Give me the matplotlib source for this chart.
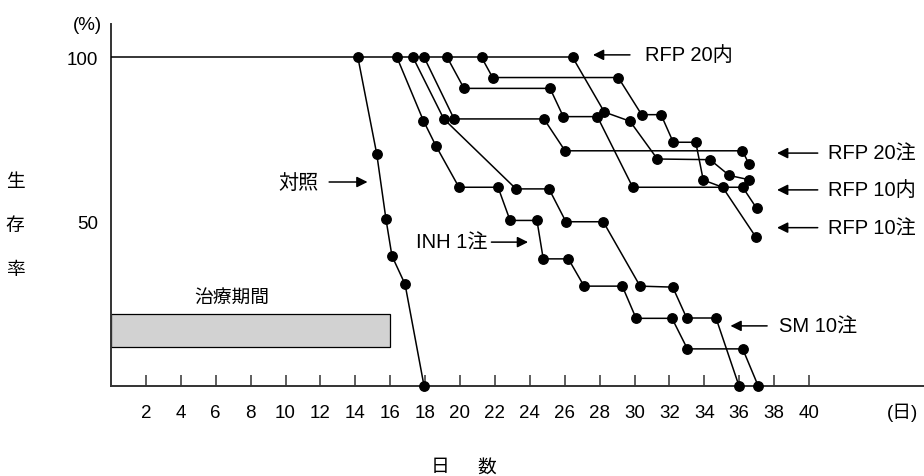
import matplotlib
matplotlib.use('Agg')
import matplotlib.pyplot as plt
from matplotlib.patches import Rectangle

plt.rcParams['font.family'] = ['Liberation Sans', 'Noto Sans CJK JP', 'DejaVu Sans']

# survival curves: day, survival rate (%)
ctrl_day = [14.15, 15.23, 15.76, 16.10, 16.85, 17.94]
ctrl_pct = [100, 70.6, 50.7, 39.6, 31.0, 0]

inh_day = [16.39, 17.90, 18.61, 19.94, 22.18, 22.87, 24.41, 24.77, 26.21, 27.11,
           29.30, 30.09, 32.15, 33.03, 36.20, 37.09]
inh_pct = [100, 80.8, 73.2, 60.5, 60.5, 50.4, 50.4, 38.7, 38.7, 30.4,
           30.4, 20.6, 20.6, 11.3, 11.3, 0]

sm_day = [17.31, 19.07, 23.21, 25.10, 26.07, 28.21, 30.32, 32.19, 32.99, 34.67, 35.99]
sm_pct = [100, 81.3, 60.0, 60.0, 50.0, 50.0, 30.4, 30.1, 20.7, 20.7, 0]

rfp20i_day = [17.95, 19.66, 24.81, 26.02, 36.18, 36.56]
rfp20i_pct = [100, 81.3, 81.3, 71.6, 71.6, 67.6]

rfp10o_day = [19.27, 20.23, 25.16, 25.92, 27.87, 29.90, 36.20, 37.00]
rfp10o_pct = [100, 90.6, 90.6, 82.0, 82.0, 60.5, 60.5, 54.1]

rfp10i_day = [21.24, 21.87, 29.07, 30.41, 31.52, 32.22, 33.51, 33.94, 35.05, 36.96]
rfp10i_pct = [100, 93.9, 93.9, 82.6, 82.6, 74.2, 74.2, 62.7, 60.5, 45.3]

rfp20o_day = [26.46, 28.27, 29.74, 31.31, 34.33, 35.43, 36.56]
rfp20o_pct = [100, 83.4, 80.6, 69.1, 68.9, 64.1, 62.8]

series = [(ctrl_day, ctrl_pct), (inh_day, inh_pct), (sm_day, sm_pct),
          (rfp20i_day, rfp20i_pct), (rfp10o_day, rfp10o_pct),
          (rfp10i_day, rfp10i_pct), (rfp20o_day, rfp20o_pct)]

treat_start, treat_end = 0, 16
xticks = list(range(2, 41, 2))

fig = plt.figure(figsize=(9.24, 4.77), dpi=100)
ax = fig.add_axes([111 / 924, 90 / 477, 1 - 111 / 924, 362 / 477])

# all groups share the 100% line until their first death
last_start = max(d[0] for d, p in series)
ax.plot([0, last_start], [100, 100], color='k', lw=1.1, zorder=3)
for d, p in series:
    ax.plot(d, p, color='k', lw=1.1, zorder=3)
    ax.plot(d, p, 'o', color='k', ms=6.8, zorder=4, clip_on=False)

ax.add_patch(Rectangle((treat_start, 12), treat_end - treat_start, 10,
                       facecolor='#d2d2d2', edgecolor='k', lw=0.9, zorder=2))
ax.text(6.93, 27.1, '治療期間', fontsize=13.5, ha='center', va='center')

ax.set_xlim(0, 813 / 17.45)
ax.set_ylim(0, 362 / 3.285)
ax.set_xticks(xticks)
ax.set_xticklabels([str(t) for t in xticks], fontsize=13.5)
ax.set_yticks([50, 100])
ax.set_yticklabels(['50', '100'], fontsize=13.5)
ax.tick_params(axis='x', direction='in', length=8, width=1.1, pad=13, color='#333333')
ax.tick_params(axis='y', length=0, pad=9)
for s in ['top', 'right']:
    ax.spines[s].set_visible(False)
for s in ['left', 'bottom']:
    ax.spines[s].set_linewidth(1.4)
    ax.spines[s].set_color('#333333')

arrow = dict(arrowstyle='-|>', color='k', lw=1.1, mutation_scale=16, shrinkA=0, shrinkB=0)
fs = 14.5

# right-pointing labels
ax.annotate('', xy=(14.7, 62.1), xytext=(12.5, 62.1), arrowprops=arrow)
ax.text(11.9, 62.1, '対照', fontsize=fs, ha='right', va='center')
ax.annotate('', xy=(23.9, 43.8), xytext=(21.8, 43.8), arrowprops=arrow)
ax.text(21.55, 43.8, 'INH 1注', fontsize=fs, ha='right', va='center')

# left-pointing labels
ax.annotate('', xy=(27.62, 100.8), xytext=(29.74, 100.8), arrowprops=arrow)
ax.text(30.6, 100.8, 'RFP 20内', fontsize=fs, ha='left', va='center')
for y, lab in [(70.9, 'RFP 20注'), (59.7, 'RFP 10内'), (48.2, 'RFP 10注')]:
    ax.annotate('', xy=(38.17, y), xytext=(40.5, y), arrowprops=arrow)
    ax.text(41.1, y, lab, fontsize=fs, ha='left', va='center')
ax.annotate('', xy=(35.5, 18.3), xytext=(37.6, 18.3), arrowprops=arrow)
ax.text(38.3, 18.3, 'SM 10注', fontsize=fs, ha='left', va='center')

# units and axis titles
fig.text(87 / 924, 1 - 25 / 477, '(%)', fontsize=13.5, ha='center', va='center')
fig.text(903 / 924, 1 - 413 / 477, '(日)', fontsize=13.5, ha='center', va='center')
for y, ch in [(183, '生'), (226, '存'), (270, '率')]:
    fig.text(15 / 924, 1 - y / 477, ch, fontsize=13.5, ha='center', va='center')
fig.text(440 / 924, 1 - 468 / 477, '日', fontsize=13.5, ha='center', va='center')
fig.text(487 / 924, 1 - 468 / 477, '数', fontsize=13.5, ha='center', va='center')

fig.savefig('out.png', dpi=100)
